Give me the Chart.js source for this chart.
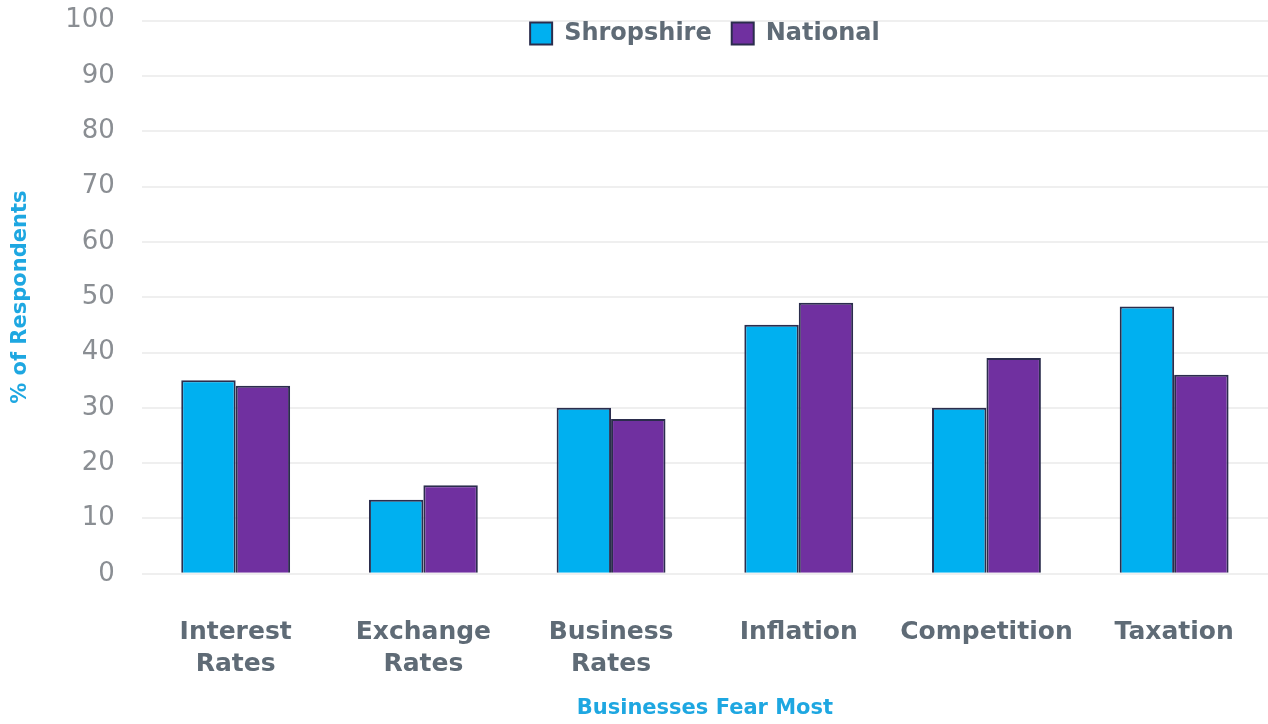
<!DOCTYPE html>
<html>
<head>
<meta charset="utf-8">
<script src="https://cdn.jsdelivr.net/npm/chart.js@4"></script>
<style>
html,body{margin:0;padding:0;background:#fff;}
#wrap{width:1268px;height:724px;}
</style>
</head>
<body>
<div id="wrap"><canvas id="c" width="1268" height="724"></canvas></div>
<script>
const categories = [["Interest","Rates"],["Exchange","Rates"],["Business","Rates"],"Inflation","Competition","Taxation"];
const shropshire = [35, 13.4, 30, 45, 30, 48.3];
const national = [34, 16, 28, 49, 39, 36];
const yTicks = [0,10,20,30,40,50,60,70,80,90,100];

const FONT = "'DejaVu Sans', sans-serif";

// Let the legend overlay the top of the plot area instead of reserving space
const overlayLegend = {
  id:'overlayLegend',
  beforeUpdate(chart){
    const lg = chart.legend;
    if (lg && !lg._patched){
      const origFit = lg.fit;
      lg.fit = function(){ origFit.call(this); this._realH = this.height; this.height = 0; };
      const origDraw = lg.draw;
      lg.draw = function(){
        const t = this.top, b = this.bottom;
        this.top = t - 19;
        this.bottom = this.top + (this._realH || 0);
        origDraw.call(this);
        this.top = t; this.bottom = b;
      };
      lg._patched = true;
    }
  }
};

new Chart(document.getElementById('c'), {
  type: 'bar',
  data: {
    labels: categories,
    datasets: [
      {label:'Shropshire', data: shropshire, backgroundColor:'#00b0f0', borderColor:'#2b2d4d', borderWidth:2},
      {label:'National', data: national, backgroundColor:'#7030a0', borderColor:'#2b2d4d', borderWidth:2}
    ]
  },
  plugins:[overlayLegend],
  options: {
    responsive:false,
    animation:false,
    layout:{padding:{top:0,right:0,left:8,bottom:3}},
    datasets:{bar:{categoryPercentage:0.58, barPercentage:1}},
    plugins:{
      legend:{position:'top', align:'center', fullSize:false,
        labels:{font:{family:FONT,size:24,weight:'bold'}, color:'#5f6b76', boxWidth:22, boxHeight:22, padding:20}},
      tooltip:{enabled:false}
    },
    scales:{
      x:{
        grid:{display:false, drawTicks:true, tickLength:38},
        border:{display:false},
        ticks:{font:{family:FONT,size:25,weight:'bold',lineHeight:1.3}, color:'#5f6b76', padding:4, maxRotation:0},
        title:{display:true, text:'Businesses Fear Most', color:'#1ea7e1', font:{family:FONT,size:21,weight:'bold'}, padding:{top:11,bottom:0}}
      },
      y:{
        min:0, max:100,
        afterBuildTicks: (axis)=>{ axis.ticks = yTicks.map(v=>({value:v})); },
        grid:{color:'#efefef', lineWidth:2, drawTicks:true, tickLength:22, tickColor:'rgba(0,0,0,0)'},
        border:{display:false},
        ticks:{font:{family:FONT,size:26}, color:'#8a8e93', padding:5},
        title:{display:true, text:'% of Respondents', color:'#1ea7e1', font:{family:FONT,size:21,weight:'bold'}, padding:{top:0,bottom:27}}
      }
    }
  }
});
</script>
</body>
</html>
